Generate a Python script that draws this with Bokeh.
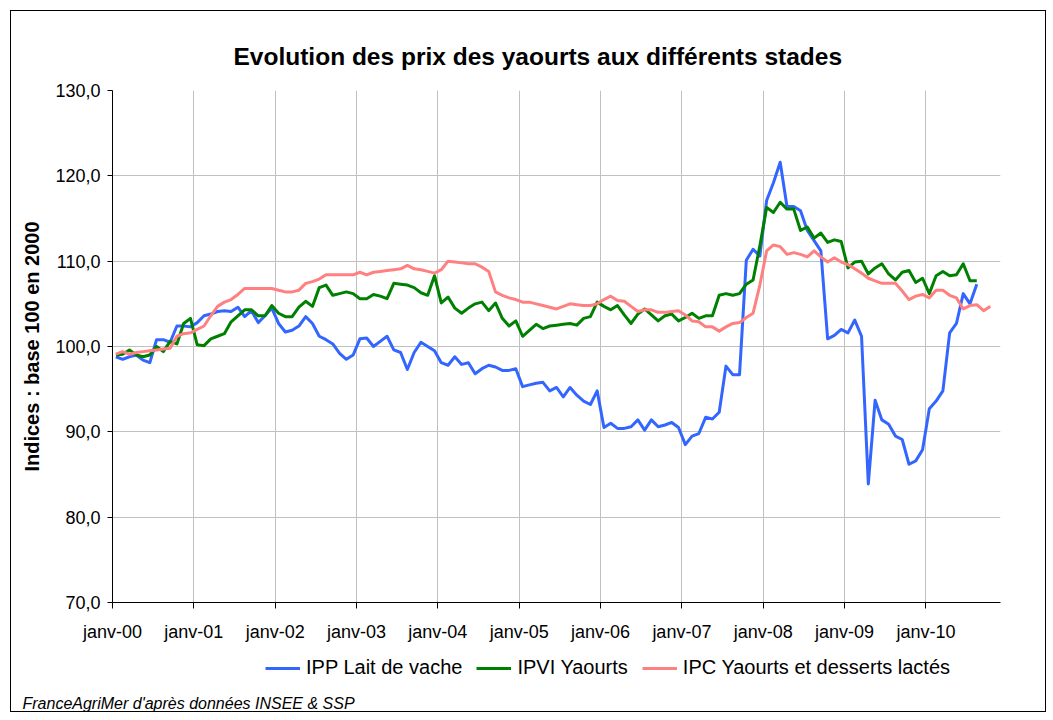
import numpy as np
from bokeh.plotting import figure
from bokeh.layouts import column
from bokeh.models import Range1d, FixedTicker, Legend, LegendItem, Title
from bokeh.embed import file_html
from bokeh.resources import INLINE

# ---------------- data ----------------
N_CAT = 131  # monthly categories on the axis, starting janv-00
x_ticks = [0, 12, 24, 36, 48, 60, 72, 84, 96, 108, 120]
x_tick_labels = ["janv-00", "janv-01", "janv-02", "janv-03", "janv-04", "janv-05",
                 "janv-06", "janv-07", "janv-08", "janv-09", "janv-10"]
y_ticks = [70, 80, 90, 100, 110, 120, 130]
y_tick_labels = ["70,0", "80,0", "90,0", "100,0", "110,0", "120,0", "130,0"]

ipp_lait = [
    98.8, 98.5, 98.8, 99.0, 98.4, 98.1, 100.8, 100.8, 100.5, 102.4, 102.4, 102.3,
    102.8, 103.6, 103.8, 104.1, 104.2, 104.1, 104.6, 103.5, 104.2, 102.8, 103.6, 104.5,
    102.7, 101.7, 101.9, 102.4, 103.5, 102.7, 101.2, 100.8, 100.3, 99.2, 98.5, 99.0,
    100.9, 101.0, 100.0, 100.6, 101.2, 99.6, 99.3, 97.3, 99.3, 100.5, 100.0, 99.5,
    98.1, 97.8, 98.8, 97.9, 98.1, 96.8, 97.4, 97.8, 97.6, 97.2, 97.2, 97.4,
    95.3, 95.5, 95.7, 95.8, 94.8, 95.2, 94.1, 95.2, 94.3, 93.6, 93.2, 94.8,
    90.5, 91.0, 90.4, 90.4, 90.6, 91.4, 90.2, 91.4, 90.6, 90.8, 91.1, 90.5,
    88.5, 89.5, 89.8, 91.7, 91.5, 92.3, 97.7, 96.7, 96.7, 110.1, 111.4, 110.6,
    117.1, 119.2, 121.6, 116.4, 116.4, 115.9, 113.6, 112.4, 111.2, 100.9, 101.3, 102.0,
    101.6, 103.1, 101.2, 83.9, 93.7, 91.4, 90.9, 89.5, 89.1, 86.2, 86.6, 87.9,
    92.7, 93.6, 94.8, 101.6, 102.7, 106.2, 105.0, 107.3,
]
ipvi_yaourts = [
    99.0, 99.1, 99.6, 99.0, 98.8, 99.0, 100.0, 99.4, 100.6, 100.3, 102.7, 103.3,
    100.2, 100.1, 100.9, 101.2, 101.5, 102.9, 103.6, 104.3, 104.3, 103.6, 103.6, 104.8,
    103.9, 103.5, 103.5, 104.6, 105.3, 104.7, 106.9, 107.2, 106.0, 106.2, 106.4, 106.2,
    105.6, 105.6, 106.1, 105.9, 105.6, 107.4, 107.3, 107.2, 106.9, 106.3, 106.0, 108.3,
    105.1, 105.8, 104.5, 103.9, 104.5, 105.0, 105.2, 104.2, 105.1, 103.3, 102.4, 103.0,
    101.2, 101.9, 102.6, 102.1, 102.4, 102.5, 102.6, 102.7, 102.5, 103.3, 103.5, 105.2,
    104.7, 104.3, 104.8, 103.7, 102.7, 103.8, 104.4, 103.7, 103.0, 103.6, 103.8, 103.0,
    103.4, 103.9, 103.3, 103.6, 103.6, 106.0, 106.2, 106.0, 106.2, 107.3, 107.8, 111.8,
    116.3, 115.7, 116.9, 116.1, 116.1, 113.6, 114.0, 112.7, 113.3, 112.2, 112.5, 112.3,
    109.2, 109.9, 110.0, 108.5, 109.2, 109.7, 108.5, 107.8, 108.7, 108.9, 107.5, 108.0,
    106.2, 108.3, 108.8, 108.3, 108.4, 109.7, 107.7, 107.7,
]
ipc_yaourts_desserts = [
    99.1, 99.4, 99.1, 99.3, 99.4, 99.5, 99.6, 99.7, 99.8, 101.2, 101.5, 101.6,
    102.0, 102.4, 103.6, 104.7, 105.2, 105.5, 106.1, 106.8, 106.8, 106.8, 106.8, 106.8,
    106.6, 106.4, 106.4, 106.6, 107.4, 107.6, 107.9, 108.4, 108.4, 108.4, 108.4, 108.4,
    108.7, 108.4, 108.7, 108.8, 108.9, 109.0, 109.1, 109.5, 109.1, 109.0, 108.8, 108.6,
    109.0, 110.0, 109.9, 109.8, 109.7, 109.7, 109.3, 108.8, 106.4, 106.0, 105.7, 105.5,
    105.2, 105.2, 105.0, 104.8, 104.6, 104.4, 104.7, 105.0, 104.9, 104.8, 104.8, 105.0,
    105.5, 105.9, 105.4, 105.3, 104.7, 104.1, 104.3, 104.3, 104.0, 104.0, 104.1, 104.2,
    103.7, 103.0, 102.9, 102.3, 102.3, 101.8, 102.3, 102.7, 102.8, 103.4, 103.9, 107.2,
    111.2, 111.9, 111.7, 110.8, 111.0, 110.8, 110.5, 111.2, 110.5, 109.9, 110.4, 109.9,
    109.6, 109.1, 108.6, 108.0, 107.7, 107.4, 107.4, 107.4, 106.5, 105.5, 105.9, 106.1,
    105.7, 106.6, 106.6, 106.0, 105.7, 104.4, 104.8, 104.9, 104.2, 104.7,
]

series_names = ["IPP Lait de vache", "IPVI Yaourts", "IPC Yaourts et desserts lactés"]
series_colors = ["#3366FF", "#008000", "#FF8080"]
series_values = [ipp_lait, ipvi_yaourts, ipc_yaourts_desserts]
source_text = "FranceAgriMer d'après données INSEE & SSP"
title_text = "Evolution des prix des yaourts aux différents stades"

FONT = "Liberation Sans"
W = 1034

# ---------------- main chart ----------------
p = figure(width=W, height=634,
           x_range=Range1d(0, N_CAT), y_range=Range1d(70, 130),
           output_backend="svg", toolbar_location=None,
           min_border_left=101, min_border_right=45,
           min_border_top=79, min_border_bottom=43)
p.background_fill_color = "white"
p.border_fill_color = "white"
p.outline_line_color = None

p.title.text = title_text
p.title.align = "left"
p.title.offset = 121
p.title.standoff = 41
p.title.text_font = FONT
p.title.text_font_size = "24.5px"
p.title.text_font_style = "bold"
p.title.text_color = "black"

for vals, color in zip(series_values, series_colors):
    xs = np.arange(len(vals)) + 0.5
    p.line(xs, vals, line_color=color, line_width=3, line_join="round")

p.xaxis.ticker = FixedTicker(ticks=x_ticks)
p.xaxis.major_label_overrides = dict(zip(x_ticks, x_tick_labels))
p.yaxis.ticker = FixedTicker(ticks=y_ticks)
p.yaxis.major_label_overrides = dict(zip(y_ticks, y_tick_labels))
p.xgrid.ticker = FixedTicker(ticks=x_ticks)
p.ygrid.ticker = FixedTicker(ticks=y_ticks)

for ax in (p.xaxis, p.yaxis):
    ax.axis_line_color = "black"
    ax.axis_line_width = 1
    ax.major_tick_line_color = "black"
    ax.major_tick_in = 0
    ax.minor_tick_line_color = None
    ax.major_label_text_font = FONT
    ax.major_label_text_font_size = "18px"
    ax.major_label_text_color = "black"

p.xaxis.major_tick_out = 6
p.xaxis.major_label_standoff = 13
p.yaxis.major_tick_out = 5
p.yaxis.major_label_standoff = 7

p.yaxis.axis_label = "Indices : base 100 en 2000"
p.yaxis.axis_label_text_font = FONT
p.yaxis.axis_label_text_font_size = "20px"
p.yaxis.axis_label_text_font_style = "bold"
p.yaxis.axis_label_text_color = "black"
p.yaxis.axis_label_standoff = 9

p.xgrid.grid_line_color = "#c0c0c0"
p.ygrid.grid_line_color = "#c0c0c0"

# ---------------- legend + source strip (frame aligned with the chart) ----------------
H2 = 66
p2 = figure(width=W, height=H2, x_range=Range1d(0, N_CAT), y_range=Range1d(0, 1),
            x_axis_type=None, y_axis_type=None, title=None,
            output_backend="svg", toolbar_location=None,
            min_border_top=0, min_border_bottom=0, min_border_left=0, min_border_right=0)
p2.background_fill_color = "white"
p2.border_fill_color = "white"
p2.outline_line_color = None
p2.xgrid.visible = False
p2.ygrid.visible = False

# legend samples: the same series drawn in this strip fall outside its view (clipped)
proxies = []
for vals, color in zip(series_values, series_colors):
    xs = np.arange(len(vals)) + 0.5
    proxies.append(p2.line(xs, vals, line_color=color, line_width=3))

legend = Legend(
    items=[LegendItem(label=n, renderers=[r]) for n, r in zip(series_names, proxies)],
    orientation="horizontal", location=(153, 13),
    glyph_width=35, glyph_height=20, label_standoff=6, spacing=14,
    padding=0, margin=0,
    label_text_font=FONT, label_text_font_size="20px", label_text_color="black",
    border_line_alpha=0, background_fill_alpha=0,
)
p2.add_layout(legend, "center")
p2.add_layout(Title(text=source_text, align="left", offset=-90, standoff=0,
                    text_font=FONT, text_font_size="16px", text_font_style="italic",
                    text_color="black"), "below")

layout = column(p, p2, spacing=0)
layout.margin = (10, 0, 0, 10)
layout.styles = {"border": "1px solid #000000"}

open("out.html", "w").write(file_html(layout, INLINE))
